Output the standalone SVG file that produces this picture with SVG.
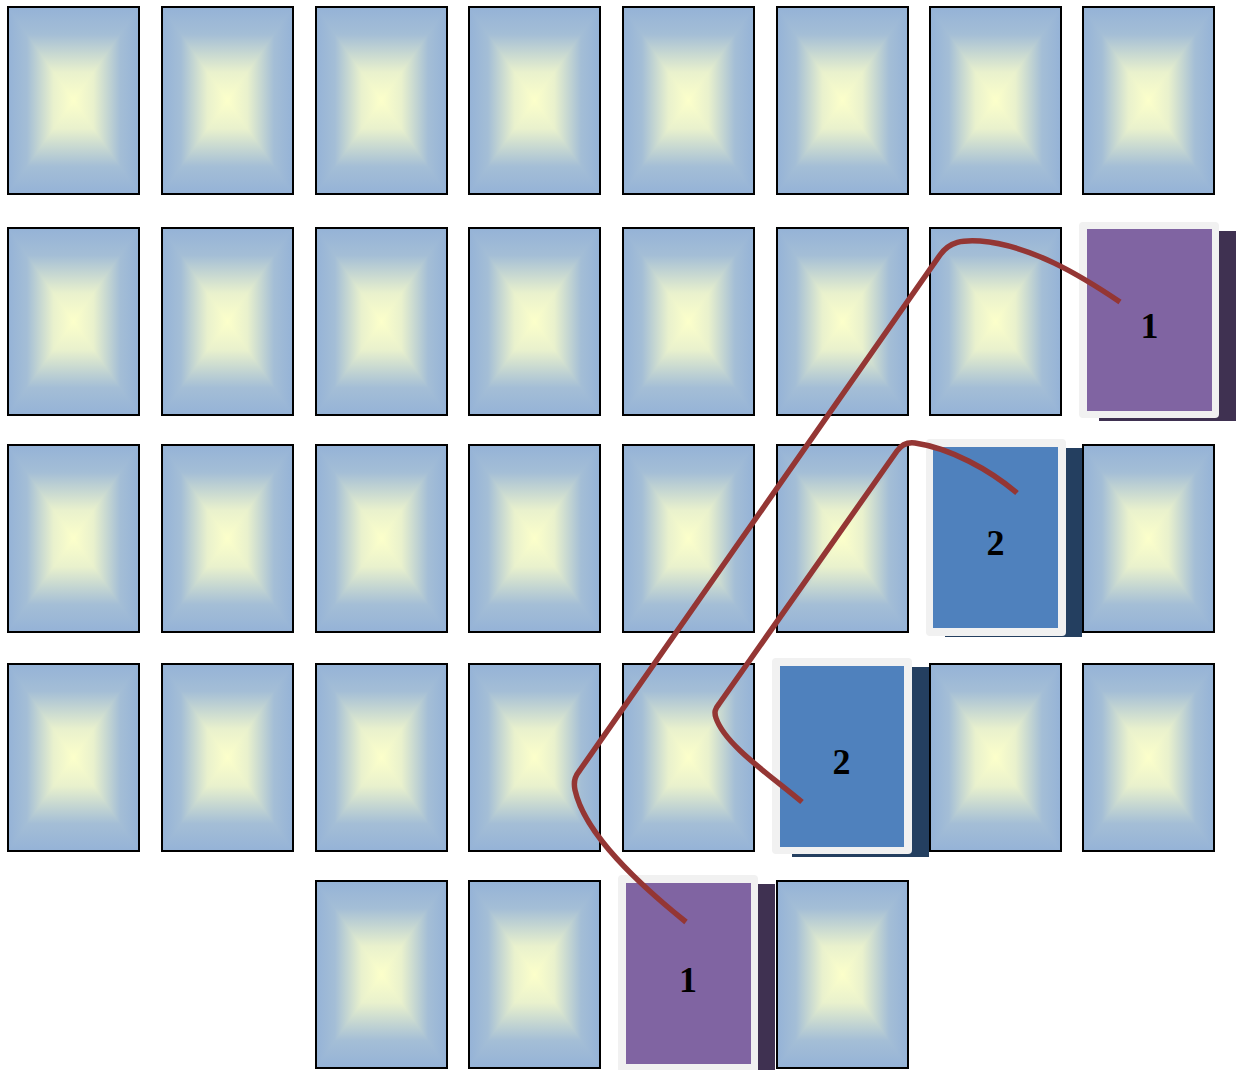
<svg xmlns="http://www.w3.org/2000/svg" xmlns:xlink="http://www.w3.org/1999/xlink" width="1236" height="1070" viewBox="0 0 1236 1070">
  <style>
    .edge { fill: #97b4d7; }
    .tri { shape-rendering: crispEdges; }
    .outline { fill: none; stroke: #000; stroke-width: 2; }
    .frame { fill: #f1f1f1; }
    .purple { fill: #8064a2; }
    .purple-sh { fill: #3f3151; }
    .blue { fill: #4f81bd; }
    .blue-sh { fill: #243f60; }
    .num { font-family: "Liberation Serif", "Times New Roman", serif; font-weight: bold; font-size: 36px; fill: #000; text-anchor: middle; }
    .link { fill: none; stroke: #943634; stroke-width: 5.5; stroke-linejoin: round; }
  </style>
  <defs>
    <linearGradient id="gv" x1="0" y1="0" x2="0" y2="1">
      <stop offset="0" stop-color="#94b2d7"/>
      <stop offset="0.3" stop-color="#a4bed6"/>
      <stop offset="0.7" stop-color="#e9f1cd"/>
      <stop offset="1" stop-color="#fcffca"/>
    </linearGradient>
    <linearGradient id="gvr" x1="0" y1="1" x2="0" y2="0">
      <stop offset="0" stop-color="#94b2d7"/>
      <stop offset="0.3" stop-color="#a4bed6"/>
      <stop offset="0.7" stop-color="#e9f1cd"/>
      <stop offset="1" stop-color="#fcffca"/>
    </linearGradient>
    <linearGradient id="gh" x1="0" y1="0" x2="1" y2="0">
      <stop offset="0" stop-color="#94b2d7"/>
      <stop offset="0.3" stop-color="#a4bed6"/>
      <stop offset="0.7" stop-color="#e9f1cd"/>
      <stop offset="1" stop-color="#fcffca"/>
    </linearGradient>
    <linearGradient id="ghr" x1="1" y1="0" x2="0" y2="0">
      <stop offset="0" stop-color="#94b2d7"/>
      <stop offset="0.3" stop-color="#a4bed6"/>
      <stop offset="0.7" stop-color="#e9f1cd"/>
      <stop offset="1" stop-color="#fcffca"/>
    </linearGradient>
    <g id="card">
      <rect class="edge" x="0" y="0" width="133" height="189"/>
      <polygon class="tri" points="0,0 133,0 66.5,94.5" fill="url(#gv)"/>
      <polygon class="tri" points="0,189 133,189 66.5,94.5" fill="url(#gvr)"/>
      <polygon class="tri" points="0,0 0,189 66.5,94.5" fill="url(#gh)"/>
      <polygon class="tri" points="133,0 133,189 66.5,94.5" fill="url(#ghr)"/>
      <rect class="outline" x="1" y="1" width="131" height="187"/>
    </g>
  </defs>

  <!-- highlighted cards -->
  <g id="card-r1c7-one">
    <rect class="purple-sh" x="1099" y="231" width="140" height="190"/>
    <rect class="frame" x="1079" y="222" width="140" height="196" rx="4"/>
    <rect class="purple" x="1087" y="229" width="125" height="182"/>
    <text class="num" x="1149.5" y="338">1</text>
  </g>
  <g id="card-r2c6-two">
    <rect class="blue-sh" x="945" y="448" width="137" height="189"/>
    <rect class="frame" x="926" y="439" width="140" height="197" rx="4"/>
    <rect class="blue" x="933" y="447" width="125" height="181"/>
    <text class="num" x="995.5" y="555">2</text>
  </g>
  <g id="card-r3c5-two">
    <rect class="blue-sh" x="792" y="667" width="137" height="190"/>
    <rect class="frame" x="772" y="658" width="140" height="196" rx="4"/>
    <rect class="blue" x="780" y="666" width="124" height="181"/>
    <text class="num" x="841.5" y="774">2</text>
  </g>
  <g id="card-r4c4-one">
    <rect class="purple-sh" x="638" y="884" width="137" height="190"/>
    <rect class="frame" x="618" y="875" width="140" height="200" rx="4"/>
    <rect class="purple" x="626" y="883" width="125" height="181"/>
    <text class="num" x="688" y="992">1</text>
  </g>

  <!-- row 0 -->
  <g id="r0">
    <use href="#card" x="7" y="6"/>
    <use href="#card" x="161" y="6"/>
    <use href="#card" x="315" y="6"/>
    <use href="#card" x="468" y="6"/>
    <use href="#card" x="622" y="6"/>
    <use href="#card" x="776" y="6"/>
    <use href="#card" x="929" y="6"/>
    <use href="#card" x="1082" y="6"/>
  </g>
  <!-- row 1 -->
  <g id="r1">
    <use href="#card" x="7" y="227"/>
    <use href="#card" x="161" y="227"/>
    <use href="#card" x="315" y="227"/>
    <use href="#card" x="468" y="227"/>
    <use href="#card" x="622" y="227"/>
    <use href="#card" x="776" y="227"/>
    <use href="#card" x="929" y="227"/>
  </g>
  <!-- row 2 -->
  <g id="r2">
    <use href="#card" x="7" y="444"/>
    <use href="#card" x="161" y="444"/>
    <use href="#card" x="315" y="444"/>
    <use href="#card" x="468" y="444"/>
    <use href="#card" x="622" y="444"/>
    <use href="#card" x="776" y="444"/>
    <use href="#card" x="1082" y="444"/>
  </g>
  <!-- row 3 -->
  <g id="r3">
    <use href="#card" x="7" y="663"/>
    <use href="#card" x="161" y="663"/>
    <use href="#card" x="315" y="663"/>
    <use href="#card" x="468" y="663"/>
    <use href="#card" x="622" y="663"/>
    <use href="#card" x="929" y="663"/>
    <use href="#card" x="1082" y="663"/>
  </g>
  <!-- row 4 -->
  <g id="r4">
    <use href="#card" x="315" y="880"/>
    <use href="#card" x="468" y="880"/>
    <use href="#card" x="776" y="880"/>
  </g>

  <!-- connectors -->
  <g id="connectors">
    <path class="link" d="M 686 922 C 640 885 585 835 575 790 C 573 780 576 775 580 770 L 940 255 C 950 241 963 240 980 241 C 1030 245 1080 275 1120 302"/>
    <path class="link" d="M 802 802 C 770 775 725 745 716 718 C 714 712 715 709 719 704 L 897 451 C 902 444 908 442 915 443 C 950 448 990 470 1017 493"/>
  </g>
</svg>
